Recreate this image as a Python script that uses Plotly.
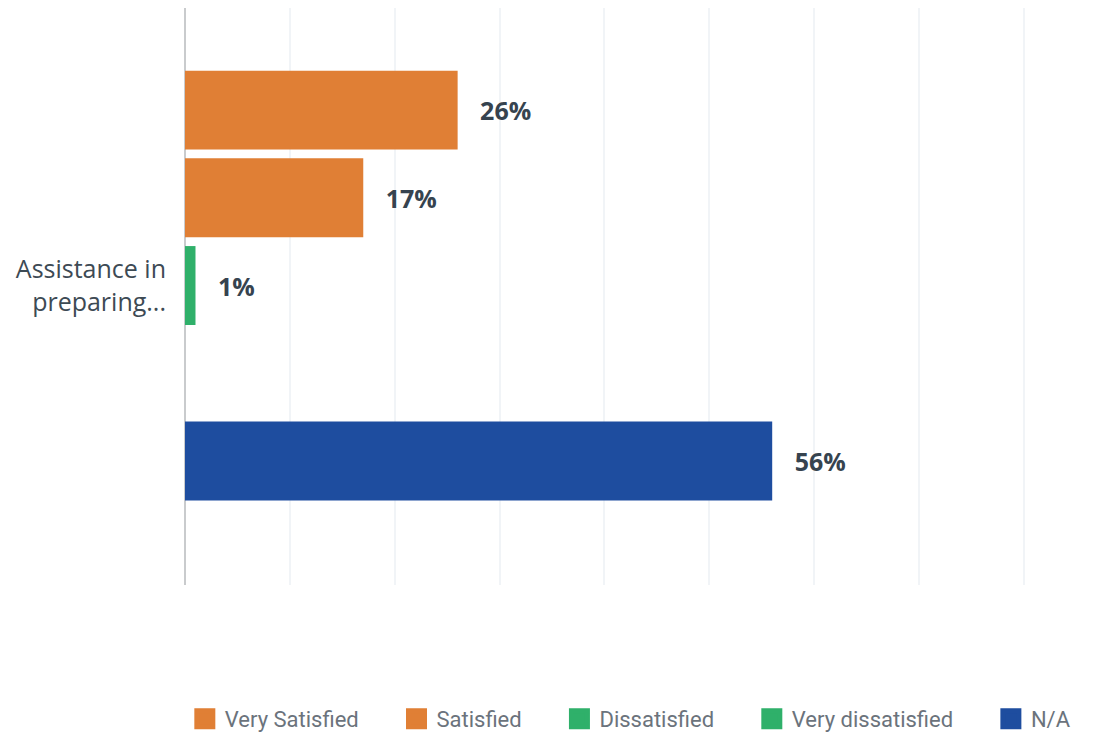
import plotly.graph_objects as go

# Survey question and response shares (percent)
question = ["Assistance in<br>preparing..."]
responses = ["Very Satisfied", "Satisfied", "Dissatisfied", "Very dissatisfied", "N/A"]
shares = [26, 17, 1, 0, 56]
colors = ["#e07f35", "#e07f35", "#2fb06a", "#2fb06a", "#1e4d9f"]

PAD = "\u00a0" * 3        # spacing between a bar end and its value label
LEGEND_PAD = "\u00a0" * 6  # extra room between legend entries

fig = go.Figure()
for i, (name, val, col) in enumerate(zip(responses, shares, colors)):
    fig.add_trace(go.Bar(
        y=question,
        x=[val],
        orientation="h",
        name=name,
        marker=dict(color=col, line=dict(width=0)),
        text=[f"{PAD}{val}%" if val > 0 else ""],
        textposition="outside",
        constraintext="none",
        cliponaxis=False,
        textfont=dict(family="Open Sans", size=25, color="#36434f", weight="bold"),
        showlegend=False,
        hoverinfo="skip",
    ))
    # legend swatch
    label = name if i == len(responses) - 1 else name + LEGEND_PAD
    fig.add_trace(go.Scatter(
        x=[None], y=[None],
        mode="markers",
        name=label,
        marker=dict(symbol="square", size=16, color=col,
                    line=dict(color=col, width=5)),
        showlegend=True,
    ))

fig.update_layout(
    width=1117,
    height=735,
    margin=dict(l=185, r=90, t=8, b=150, autoexpand=False),
    paper_bgcolor="white",
    plot_bgcolor="white",
    barmode="group",
    bargap=0.24,
    bargroupgap=0.1,
    font=dict(family="Open Sans", color="#3d4a54"),
    legend=dict(
        orientation="h",
        x=-0.0002, xanchor="left",
        y=-0.232, yanchor="middle",
        itemsizing="trace",
        font=dict(family="Roboto", size=22, color="#6b737c"),
        traceorder="normal",
    ),
    xaxis=dict(
        range=[0, 80.3],
        dtick=10,
        showticklabels=False,
        showgrid=True,
        gridcolor="#f1f4f7",
        gridwidth=1.5,
        zeroline=True,
        zerolinecolor="#c9cbcd",
        zerolinewidth=2,
        showline=False,
        fixedrange=True,
    ),
    yaxis=dict(
        autorange=False,
        range=[0.519, -0.481],
        showgrid=False,
        zeroline=False,
        showline=False,
        ticks="",
        ticklabelstandoff=18,
        tickfont=dict(family="Open Sans", size=25, color="#3d4a54"),
        fixedrange=True,
    ),
)

fig.write_html("out.html")
